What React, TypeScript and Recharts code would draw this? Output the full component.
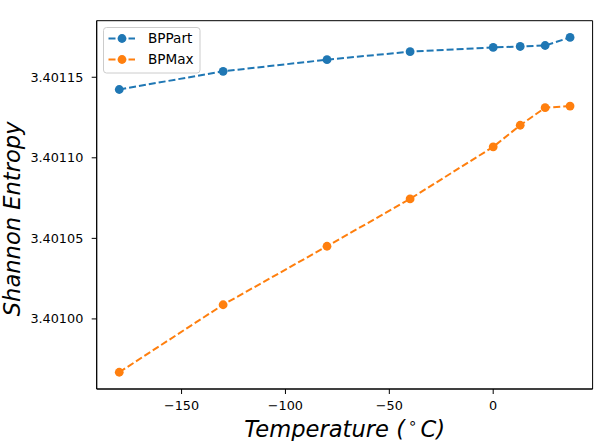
import React from "react";
import { LineChart, Line, XAxis, YAxis, Legend, ReferenceArea } from "recharts";

const temperatures = [-180, -130, -80, -40, 0, 13, 25, 37];
const bpPart = [3.4011424, 3.4011537, 3.4011609, 3.4011659, 3.4011685, 3.4011691, 3.4011697, 3.4011747];
const bpMax = [3.4009669, 3.4010088, 3.4010451, 3.4010745, 3.4011068, 3.4011202, 3.4011311, 3.4011321];
const xTicks = [-150, -100, -50, 0];
const yTicks = [3.401, 3.40105, 3.4011, 3.40115];
const seriesNames = ["BPPart", "BPMax"];
const colors = ["#1f77b4", "#ff7f0e"];
const xDomain = [-190.85, 47.85];
const yDomain = [3.4009565, 3.4011851];

const data = temperatures.map((t, i) => ({ t, BPPart: bpPart[i], BPMax: bpMax[i] }));

const FONT = "DejaVu Sans";

const fmtX = (v: number) => (v < 0 ? "\u2212" + Math.abs(v) : String(v));
const fmtY = (v: number) => v.toFixed(5);

const XLabel = (props: any) => {
  const vb = props.viewBox;
  return (
    <text x={vb.x + vb.width / 2} y={vb.y + 47.7} textAnchor="middle" fontFamily={FONT} fontStyle="italic" fontSize={22.6} fill="#000">
      Temperature (
      <tspan dy={-9} fontSize={15} fontStyle="normal" dx={3}>∘</tspan>
      <tspan dy={9} dx={3}>C)</tspan>
    </text>
  );
};

const YLabel = (props: any) => {
  const vb = props.viewBox;
  const cx = 20;
  const cy = vb.y + vb.height / 2 + 14;
  return (
    <text x={cx} y={cy} transform={`rotate(-90 ${cx} ${cy})`} textAnchor="middle" fontFamily={FONT} fontStyle="italic" fontSize={22.6} fill="#000">
      Shannon Entropy
    </text>
  );
};

const LegendContent = (props: any) => {
  const payload = (props.payload || [])
    .filter((p: any) => seriesNames.includes(p.value))
    .sort((a: any, b: any) => seriesNames.indexOf(a.value) - seriesNames.indexOf(b.value));
  return (
    <svg width={98} height={47} style={{ display: "block" }}>
      <rect x={0.5} y={0.5} width={96.5} height={45.5} rx={3} ry={3} fill="#ffffff" fillOpacity={0.8} stroke="#cccccc" strokeWidth={1} />
      {payload.map((p: any, i: number) => {
        const cy = 11.5 + i * 21;
        return (
          <g key={p.value}>
            <line x1={5.5} x2={32} y1={cy} y2={cy} stroke={p.color} strokeWidth={2} strokeDasharray="7 3" />
            <circle cx={19} cy={cy} r={4.4} fill={p.color} />
            <text x={45} y={cy + 4.9} fontFamily={FONT} fontSize={13.6} fill="#000">{p.value}</text>
          </g>
        );
      })}
    </svg>
  );
};

export default function App() {
  return (
    <div style={{ position: "absolute", left: 0, top: 0, width: 598, height: 441, background: "#fff" }}>
      <LineChart width={598} height={441} data={data} margin={{ top: 20.7, right: 5.4, bottom: 0, left: 0 }}>
        <XAxis
          dataKey="t"
          type="number"
          domain={xDomain}
          ticks={xTicks}
          tickFormatter={fmtX}
          allowDataOverflow
          height={52}
          tickSize={5}
          tickMargin={7}
          stroke="#000"
          tick={{ fill: "#000", fontFamily: FONT, fontSize: 12.8 }}
          tickLine={{ stroke: "#000" }}
          axisLine={{ stroke: "#000" }}
          label={<XLabel />}
        />
        <YAxis
          type="number"
          domain={yDomain}
          ticks={yTicks}
          tickFormatter={fmtY}
          allowDataOverflow
          width={96.7}
          tickSize={5}
          tickMargin={8.4}
          stroke="#000"
          tick={{ fill: "#000", fontFamily: FONT, fontSize: 12.8 }}
          tickLine={{ stroke: "#000" }}
          axisLine={{ stroke: "#000" }}
          label={<YLabel />}
        />
        <ReferenceArea x1={xDomain[0]} x2={xDomain[1]} y1={yDomain[0]} y2={yDomain[1]} fill="none" stroke="#000" strokeWidth={1} ifOverflow="visible" />
        <Legend
          layout="horizontal"
          verticalAlign="middle"
          align="center"
          content={<LegendContent />}
          wrapperStyle={{ position: "absolute", left: 103, top: 26.5, width: 98, height: 47 }}
        />
        <Line
          dataKey="BPPart"
          name={seriesNames[0]}
          stroke={colors[0]}
          strokeWidth={2}
          strokeDasharray="7 3"
          dot={{ r: 4.4, fill: colors[0], stroke: colors[0], strokeWidth: 0 }}
          activeDot={false}
          isAnimationActive={false}
        />
        <Line
          dataKey="BPMax"
          name={seriesNames[1]}
          stroke={colors[1]}
          strokeWidth={2}
          strokeDasharray="7 3"
          dot={{ r: 4.4, fill: colors[1], stroke: colors[1], strokeWidth: 0 }}
          activeDot={false}
          isAnimationActive={false}
        />
      </LineChart>
    </div>
  );
}
